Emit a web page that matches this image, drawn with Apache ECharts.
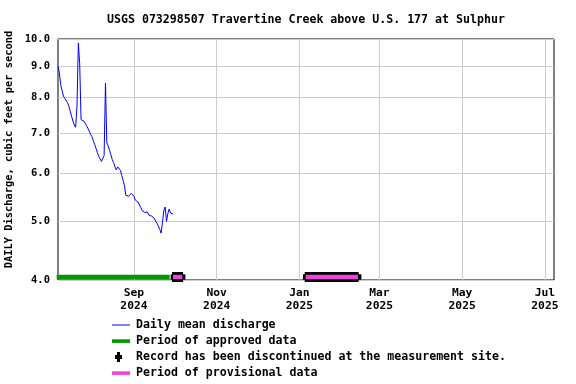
<!DOCTYPE html>
<html><head><meta charset="utf-8">
<script src="https://cdn.jsdelivr.net/npm/echarts@6/dist/echarts.min.js"></script>
<style>html,body{margin:0;padding:0;background:#fff}#c{width:576px;height:384px}</style>
</head><body><div id="c"></div>
<script>
const chartTitle = 'USGS 073298507 Travertine Creek above U.S. 177 at Sulphur';
const yAxisName = 'DAILY Discharge, cubic feet per second';
const xMin = '2024-07-07 00:00';
const xMax = '2025-07-07 17:00';
const dailyStart = [2024, 6, 7];
const dailyValues = [
  9.02, 8.8, 8.4, 8.22, 8.05, 7.98, 7.93, 7.85, 7.75, 7.6,
  7.46, 7.32, 7.21, 7.15, 7.75, 9.85, 9.1, 7.36, 7.33, 7.32,
  7.32, 7.2, 7.12, 7.05, 6.96, 6.9, 6.8, 6.7, 6.6, 6.5,
  6.4, 6.34, 6.28, 6.32, 6.42, 8.45, 6.74, 6.66, 6.55, 6.44,
  6.32, 6.25, 6.15, 6.08, 6.15, 6.13, 6.07, 5.95, 5.84, 5.73,
  5.52, 5.5, 5.5, 5.51, 5.56, 5.58, 5.5, 5.42, 5.38, 5.38,
  5.36, 5.27, 5.21, 5.22, 5.17, 5.15, 5.18, 5.12, 5.12, 5.1,
  5.07, 5.06, 5.0, 4.96, 4.91, 4.85, 4.78, 4.97, 5.2, 5.28,
  5.0, 5.15, 5.24, 5.16, 5.14, 5.14
];
const yTickValues = [4, 5, 6, 7, 8, 9, 10];
const yTickLabels = ['4.0', '5.0', '6.0', '7.0', '8.0', '9.0', '10.0'];
const xTickDates = ['2024-09-01', '2024-11-01', '2025-01-01', '2025-03-01', '2025-05-01', '2025-07-01'];
const xTickLabels = ['Sep\n2024', 'Nov\n2024', 'Jan\n2025', 'Mar\n2025', 'May\n2025', 'Jul\n2025'];
const barLevel = 4.046;
const approvedPeriod = ['2024-07-06 00:00', '2024-09-27 08:00'];
const discontinuedMain = [['2024-09-29 01:00', '2024-10-07 05:00'], ['2025-01-04 22:00', '2025-02-13 17:00']];
const discontinuedTab = [['2024-09-28 02:00', '2024-10-08 22:00'], ['2025-01-03 14:00', '2025-02-15 17:00']];
const provisionalPeriods = [['2024-09-29 19:00', '2024-10-06 17:00'], ['2025-01-05 14:00', '2025-02-13 05:00']];

const names = {
  daily: 'Daily mean discharge',
  approved: 'Period of approved data',
  disc: 'Record has been discontinued at the measurement site.',
  prov: 'Period of provisional data'
};

function ts(s) {
  const m = s.match(/(\d+)-(\d+)-(\d+)(?: (\d+):(\d+))?/);
  return new Date(+m[1], +m[2] - 1, +m[3], m[4] ? +m[4] : 0, m[5] ? +m[5] : 0).getTime();
}
const xTickTs = xTickDates.map(ts);
const dailyData = dailyValues.map((v, i) => [new Date(dailyStart[0], dailyStart[1], dailyStart[2] + i).getTime(), v]);
const seg = p => [[ts(p[0]), barLevel], [ts(p[1]), barLevel]];

const font = 'DejaVu Sans Mono';
const series = [
  { name: names.daily, type: 'line', data: dailyData, showSymbol: false, symbol: 'none',
    lineStyle: { color: '#0000ff', width: 1 }, itemStyle: { color: '#0000ff' }, z: 5 },
  { name: names.approved, type: 'line', data: seg(approvedPeriod), showSymbol: false, symbol: 'none', clip: false,
    lineStyle: { color: '#009900', width: 4.3, cap: 'butt' }, itemStyle: { color: '#009900' }, z: 2 }
];
discontinuedMain.forEach(p => series.push({ name: names.disc, type: 'line', data: seg(p), showSymbol: false, symbol: 'none', clip: false,
  lineStyle: { color: '#000', width: 10, cap: 'butt' }, itemStyle: { color: '#000' }, z: 3 }));
discontinuedTab.forEach(p => series.push({ name: names.disc, type: 'line', data: seg(p), showSymbol: false, symbol: 'none', clip: false,
  lineStyle: { color: '#000', width: 5.3, cap: 'butt' }, itemStyle: { color: '#000' }, z: 3 }));
provisionalPeriods.forEach(p => series.push({ name: names.prov, type: 'line', data: seg(p), showSymbol: false, symbol: 'none', clip: false,
  lineStyle: { color: '#ee44dd', width: 4.3, cap: 'butt' }, itemStyle: { color: '#ee44dd' }, z: 4 }));

const chart = echarts.init(document.getElementById('c'), null, { renderer: 'canvas' });
chart.setOption({
  animation: false,
  backgroundColor: '#fff',
  title: { text: chartTitle, left: 107, top: 14, padding: 0,
    textStyle: { fontFamily: font, fontWeight: 'bold', fontSize: 11.6, color: '#000' } },
  grid: { left: 58, right: 22, top: 39, bottom: 104, show: true, borderColor: '#000', borderWidth: 1,
    containLabel: false, outerBoundsMode: 'none' },
  xAxis: {
    type: 'value', min: ts(xMin), max: ts(xMax),
    axisLine: { show: false }, axisTick: { show: false, customValues: xTickTs },
    splitLine: { show: true, lineStyle: { color: '#cccccc', width: 1 } },
    axisLabel: { customValues: xTickTs, margin: 7, color: '#000', fontFamily: font, fontWeight: 'bold', fontSize: 11.3, lineHeight: 13,
      formatter: v => { const i = xTickTs.indexOf(v); return i >= 0 ? xTickLabels[i] : ''; } }
  },
  yAxis: {
    type: 'log', min: 4, max: 10,
    name: yAxisName, nameLocation: 'middle', nameGap: 44,
    nameTextStyle: { fontFamily: font, fontWeight: 'bold', fontSize: 10.4, color: '#000', padding: [0, 0, 0, 20] },
    axisLine: { show: false }, axisTick: { show: false, customValues: yTickValues },
    splitLine: { show: true, lineStyle: { color: '#cccccc', width: 1 } },
    axisLabel: { customValues: yTickValues, margin: 8, color: '#000', fontFamily: font, fontWeight: 'bold', fontSize: 10.5,
      formatter: v => { const i = yTickValues.findIndex(t => Math.abs(t - v) < 1e-6); return i >= 0 ? yTickLabels[i] : ''; } }
  },
  legend: {
    orient: 'vertical', left: 112, top: 318, height: 70, padding: 0, itemWidth: 18, itemHeight: 14, itemGap: 2,
    itemStyle: { borderWidth: 0 }, selectedMode: false,
    textStyle: { fontFamily: font, fontWeight: 'bold', fontSize: 11.6, color: '#000', padding: [0, 0, 0, 1] },
    data: [
      { name: names.daily, icon: 'path://M0,0M18,14M0,6.5h18v1h-18z' },
      { name: names.approved, icon: 'path://M0,0M18,14M0,5.3h18v3.6h-18z' },
      { name: names.disc, icon: 'path://M0,0M18,14M5,2h3v3h2v4h-2v3h-3v-3h-2v-4h2z' },
      { name: names.prov, icon: 'path://M0,0M18,14M0,5.3h18v3.6h-18z' }
    ]
  },
  series: series
});
</script></body></html>
